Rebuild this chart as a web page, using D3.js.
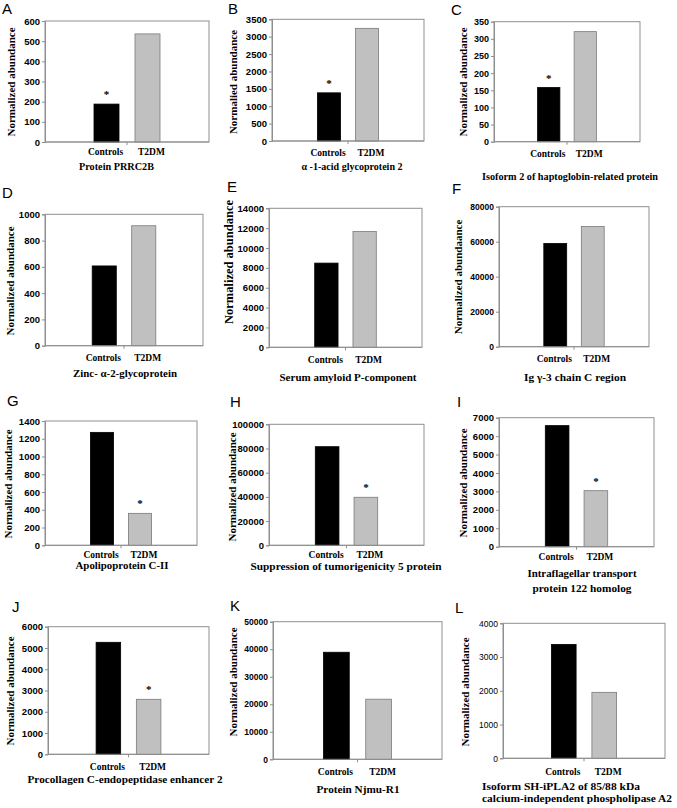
<!DOCTYPE html>
<html>
<head>
<meta charset="utf-8">
<script src="https://cdn.jsdelivr.net/npm/d3@7"></script>
<style>
  body { margin: 0; background: #fff; }
  .tick text { font-family: "Liberation Sans", Arial, sans-serif; }
</style>
</head>
<body>
<svg id="fig" width="677" height="808"></svg>
<script>
// ---- data ----
const panelLetters = ['A', 'B', 'C', 'D', 'E', 'F', 'G', 'H', 'I', 'J', 'K', 'L'];
const proteinNames = [
    ['Protein PRRC2B'],
    ['α -1-acid glycoprotein 2'],
    ['Isoform 2 of haptoglobin-related protein'],
    ['Zinc- α-2-glycoprotein'],
    ['Serum amyloid P-component'],
    ['Ig γ-3 chain C region'],
    ['Apolipoprotein C-II'],
    ['Suppression of tumorigenicity 5 protein'],
    ['Intraflagellar transport', 'protein 122 homolog'],
    ['Procollagen C-endopeptidase enhancer 2'],
    ['Protein Njmu-R1'],
    ['Isoform SH-iPLA2 of 85/88 kDa', 'calcium-independent phospholipase A2']
];
const yAxisLabels = [
    'Normalized abundance', 'Normalied abundance', 'Normalized abundance',
    'Normalized abundance', 'Normalized abundance', 'Normalized abundaance',
    'Normalized abundance', 'Normalized abundance', 'Normalized abundance',
    'Normalized abundance', 'Normalized abundance', 'Normalized abundance'
];
const categories = ['Controls', 'T2DM'];
const controlsValues = [188, 1385, 158, 607, 8480, 59000, 1272, 81500, 6570, 5266, 38900, 3375];
const t2dmValues = [536, 3240, 321, 913, 11660, 68700, 360, 39700, 3040, 2586, 21850, 1955];
const yMaxValues = [600, 3500, 350, 1000, 14000, 80000, 1400, 100000, 7000, 6000, 50000, 4000];
const yStepValues = [100, 500, 50, 200, 2000, 20000, 200, 20000, 1000, 1000, 10000, 1000];
const starredGroup = ['Controls', 'Controls', 'Controls', null, null, null, 'T2DM', 'T2DM', 'T2DM', 'T2DM', null, null];

// ---- where each panel sits on the page ----
// box: [left, top, right, bottom] of the plot area
const layout = [
    { box: [45, 21, 209, 142], ylx: 11, ylc: 82, yls: 11, tick: 9.5, bold: true, letter: [2, 14], cat: 155, titles: [[116.5, 169.5, 75]] },
    { box: [272, 19.3, 424, 141], ylx: 233, ylc: 82, yls: 11, tick: 9.5, bold: true, letter: [228, 14], cat: 155.5, titles: [[352, 170, 101]] },
    { box: [494, 21.7, 640, 141.7], ylx: 463, ylc: 82, yls: 11, tick: 9, bold: true, letter: [451, 15], cat: 156.5, titles: [[570, 179.5, 176]] },
    { box: [45, 214.3, 203, 345.7], ylx: 10, ylc: 281, yls: 11, tick: 9.5, bold: true, letter: [2, 198], cat: 361, titles: [[125, 376.5, 104]] },
    { box: [269, 208.3, 422, 347.3], ylx: 229, ylc: 262, yls: 12.5, tick: 9.5, bold: true, letter: [227, 192], cat: 362.5, titles: [[348, 381, 137]] },
    { box: [499, 206.7, 649, 346.7], ylx: 458, ylc: 277, yls: 11, tick: 8.5, bold: true, letter: [452, 194], cat: 362, titles: [[575, 381, 102]] },
    { box: [45, 421, 197, 545.3], ylx: 8, ylc: 484, yls: 11, tick: 9.5, bold: true, letter: [7, 406], cat: 557.5, titles: [[122, 569, 93]] },
    { box: [269, 424.3, 424, 545.3], ylx: 232, ylc: 487, yls: 11, tick: 9.5, bold: true, letter: [230, 407], cat: 558, titles: [[346, 570, 191]] },
    { box: [499, 417.7, 654, 546.7], ylx: 463, ylc: 483, yls: 11, tick: 9.5, bold: true, letter: [457, 407], cat: 560, titles: [[582, 577, 109], [582, 591.5, 99]] },
    { box: [48, 626.7, 209, 754.3], ylx: 10, ylc: 691, yls: 11, tick: 9.5, bold: true, letter: [12, 612], cat: 770, titles: [[125, 783, 195]] },
    { box: [273, 621.7, 442, 759.3], ylx: 233, ylc: 682, yls: 11, tick: 8.5, bold: true, letter: [230, 611], cat: 775, titles: [[358, 793, 83]] },
    { box: [503, 623.3, 665, 758.3], ylx: 465, ylc: 692, yls: 11, tick: 8.5, bold: false, letter: [455, 613], cat: 775, titles: [[482, 790, 158, 'start'], [482, 802, 190, 'start']] }
];

const serif = '"Liberation Serif", "Times New Roman", serif';
const sans = '"Liberation Sans", Arial, sans-serif';
const frameColor = '#8f8f8f';
const barFill = { 'Controls': '#000000', 'T2DM': '#c0c0c0' };
const barStroke = { 'Controls': '#000000', 'T2DM': '#7a7a7a' };
const labelShift = { 'Controls': -1, 'T2DM': 4 };

const svg = d3.select('#fig');

panelLetters.forEach(function (letter, i) {
    const lay = layout[i];
    const [left, top, right, bottom] = lay.box;
    const values = [controlsValues[i], t2dmValues[i]];
    const g = svg.append('g').attr('class', 'panel');

    const x = d3.scaleBand()
        .domain(categories)
        .range([left, right])
        .paddingInner(0.39)
        .paddingOuter(1.195);

    const y = d3.scaleLinear()
        .domain([0, yMaxValues[i]])
        .range([bottom, top]);

    // plot area frame
    g.append('rect')
        .attr('x', left).attr('y', top)
        .attr('width', right - left).attr('height', bottom - top)
        .attr('fill', 'none')
        .attr('stroke', frameColor)
        .attr('stroke-width', 1);

    // bars
    g.selectAll('rect.bar')
        .data(categories)
        .join('rect')
        .attr('class', 'bar')
        .attr('x', d => x(d))
        .attr('y', (d, k) => y(values[k]))
        .attr('width', x.bandwidth())
        .attr('height', (d, k) => bottom - y(values[k]))
        .attr('fill', d => barFill[d])
        .attr('stroke', d => barStroke[d])
        .attr('stroke-width', 0.8);

    // y axis
    const yAxis = d3.axisLeft(y)
        .tickValues(d3.range(0, yMaxValues[i] + yStepValues[i] / 2, yStepValues[i]))
        .tickFormat(d3.format('d'))
        .tickSize(3)
        .tickPadding(2);

    const ya = g.append('g')
        .attr('transform', `translate(${left},0)`)
        .call(yAxis);
    ya.select('.domain').attr('stroke', frameColor);
    ya.selectAll('.tick line').attr('stroke', frameColor);
    ya.selectAll('.tick text')
        .attr('font-size', lay.tick)
        .attr('font-weight', lay.bold ? 'bold' : 'normal')
        .attr('fill', '#000');

    // x axis: line plus a single divider tick between the two categories
    g.append('line')
        .attr('x1', left).attr('x2', right)
        .attr('y1', bottom).attr('y2', bottom)
        .attr('stroke', frameColor);
    const mid = (x('Controls') + x.bandwidth() + x('T2DM')) / 2;
    g.append('line')
        .attr('x1', mid).attr('x2', mid)
        .attr('y1', bottom).attr('y2', bottom + 3)
        .attr('stroke', frameColor);

    // category labels
    g.selectAll('text.cat')
        .data(categories)
        .join('text')
        .attr('class', 'cat')
        .attr('x', d => x(d) + x.bandwidth() / 2 + labelShift[d])
        .attr('y', lay.cat)
        .attr('text-anchor', 'middle')
        .attr('font-family', serif)
        .attr('font-weight', 'bold')
        .attr('font-size', 9.5)
        .text(d => d);

    // significance star
    if (starredGroup[i]) {
        const k = categories.indexOf(starredGroup[i]);
        g.append('text')
            .attr('x', x(starredGroup[i]) + x.bandwidth() / 2)
            .attr('y', y(values[k]) - 6)
            .attr('text-anchor', 'middle')
            .attr('font-family', serif)
            .attr('font-weight', 'bold')
            .attr('font-size', 11)
            .attr('fill', '#000')
            .text('*');
    }

    // y axis title
    g.append('text')
        .attr('transform', `translate(${lay.ylx},${lay.ylc}) rotate(-90)`)
        .attr('text-anchor', 'middle')
        .attr('dominant-baseline', 'central')
        .attr('font-family', serif)
        .attr('font-weight', 'bold')
        .attr('font-size', lay.yls)
        .text(yAxisLabels[i]);

    // protein name under the panel
    proteinNames[i].forEach(function (line, j) {
        const t = lay.titles[j];
        g.append('text')
            .attr('x', t[0])
            .attr('y', t[1])
            .attr('text-anchor', t[3] || 'middle')
            .attr('font-family', serif)
            .attr('font-weight', 'bold')
            .attr('font-size', 10.5)
            .attr('textLength', t[2])
            .attr('lengthAdjust', 'spacingAndGlyphs')
            .text(line);
    });

    // panel letter
    g.append('text')
        .attr('x', lay.letter[0])
        .attr('y', lay.letter[1])
        .attr('font-family', sans)
        .attr('font-size', 15)
        .text(letter);
});
</script>
</body>
</html>
